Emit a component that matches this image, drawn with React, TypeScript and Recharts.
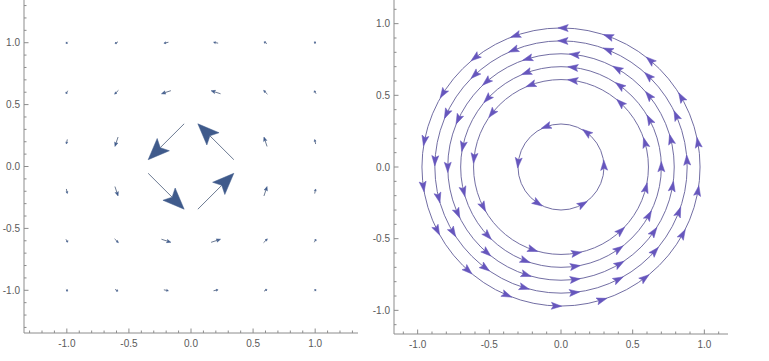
import React from 'react';
import { ScatterChart, Scatter, XAxis, YAxis } from 'recharts';

// ---------- data: vector field (left) ----------
const gridX = [-1, -0.6, -0.2, 0.2, 0.6, 1];
const gridY = [1, 0.6, 0.2, -0.2, -0.6, -1];
// drawn arrow components (data units), rows follow gridY, columns follow gridX
const vecU = [
  [-0.014, -0.024, -0.037, -0.037, -0.024, -0.014],
  [-0.0144, -0.031, -0.076, -0.076, -0.031, -0.0144],
  [-0.0075, -0.025, -0.29, -0.29, -0.025, -0.0075],
  [0.0075, 0.025, 0.29, 0.29, 0.025, 0.0075],
  [0.0144, 0.031, 0.076, 0.076, 0.031, 0.0144],
  [0.014, 0.024, 0.037, 0.037, 0.024, 0.014],
];
const vecV = [
  [-0.014, -0.0144, -0.0075, 0.0075, 0.0144, 0.014],
  [-0.024, -0.031, -0.025, 0.025, 0.031, 0.024],
  [-0.037, -0.076, -0.29, 0.29, 0.076, 0.037],
  [-0.037, -0.076, -0.29, 0.29, 0.076, 0.037],
  [-0.024, -0.031, -0.025, 0.025, 0.031, 0.024],
  [-0.014, -0.0144, -0.0075, 0.0075, 0.0144, 0.014],
];

// ---------- data: stream lines (right) ----------
const ringRadii = [0.97, 0.88, 0.79, 0.7, 0.61, 0.3];
const ringArrowAngles = [
  [10, 30, 50, 70, 89, 109, 128, 148, 169, 188, 207, 228, 247, 268, 287, 307, 331, 350],
  [3, 24, 46, 68, 89, 112, 133, 155, 177, 194, 211, 233, 253, 276, 297, 318, 339],
  [14, 39, 60, 83, 107, 131, 155, 180, 204, 229, 252, 277, 301, 325, 350],
  [0, 28, 54, 83, 110, 137, 168, 194, 223, 249, 278, 305, 331],
  [16, 47, 82, 110, 142, 174, 207, 251, 280, 313, 346],
  [2, 53, 110, 174, 237, 300],
];

// ---------- axes ----------
const leftDomain = [-1.345, 1.345];
const rightDomain = [-1.165, 1.165];
const majorTicks = [-1, -0.5, 0, 0.5, 1];
const leftMinorTicks = [-1.3, -1.2, -1.1, -1, -0.9, -0.8, -0.7, -0.6, -0.5, -0.4, -0.3, -0.2, -0.1, 0, 0.1, 0.2, 0.3, 0.4, 0.5, 0.6, 0.7, 0.8, 0.9, 1, 1.1, 1.2, 1.3];
const rightMinorTicks = [-1.1, -1, -0.9, -0.8, -0.7, -0.6, -0.5, -0.4, -0.3, -0.2, -0.1, 0, 0.1, 0.2, 0.3, 0.4, 0.5, 0.6, 0.7, 0.8, 0.9, 1, 1.1];

const FRAME = '#8c8c8c';
const LABEL = '#5a5a5a';
const FONT = 'Liberation Sans, Arial, sans-serif';
const MAJ = 4.5;
const MIN = 2.5;

const isMajor = (v: number) => majorTicks.some((m) => Math.abs(m - v) < 1e-6);
const fmt = (v: number) => {
  const s = Math.abs(v).toFixed(1);
  return v < -1e-9 ? '-' + s : s;
};

const BottomTick = (props: any) => {
  const { x, y, payload } = props;
  const major = isMajor(payload.value);
  return (
    <g>
      <line x1={x} y1={y} x2={x} y2={y - (major ? MAJ : MIN)} stroke={FRAME} strokeWidth={1} />
      {major && (
        <text x={x} y={y + 14} textAnchor="middle" fontSize={10} fill={LABEL} fontFamily={FONT}>
          {fmt(payload.value)}
        </text>
      )}
    </g>
  );
};
const TopTick = (props: any) => {
  const { x, y, payload } = props;
  const major = isMajor(payload.value);
  return <line x1={x} y1={y} x2={x} y2={y + (major ? MAJ : MIN)} stroke={FRAME} strokeWidth={1} />;
};
const LeftTick = (props: any) => {
  const { x, y, payload } = props;
  const major = isMajor(payload.value);
  return (
    <g>
      <line x1={x} y1={y} x2={x + (major ? MAJ : MIN)} y2={y} stroke={FRAME} strokeWidth={1} />
      {major && (
        <text x={x - 4} y={y + 3.5} textAnchor="end" fontSize={10} fill={LABEL} fontFamily={FONT}>
          {fmt(payload.value)}
        </text>
      )}
    </g>
  );
};
const RightTick = (props: any) => {
  const { x, y, payload } = props;
  const major = isMajor(payload.value);
  return <line x1={x} y1={y} x2={x - (major ? MAJ : MIN)} y2={y} stroke={FRAME} strokeWidth={1} />;
};

const emptyShape = () => <g />;

// arrow for the vector field: points = [tail, tip] in pixels
const renderVectorArrow = (props: any) => {
  const pts = props.points;
  if (!pts || pts.length < 2) return <g />;
  const [t, h] = pts;
  const dx = h.x - t.x;
  const dy = h.y - t.y;
  const len = Math.sqrt(dx * dx + dy * dy) || 1;
  const ux = dx / len;
  const uy = dy / len;
  const px = -uy;
  const py = ux;
  const hl = Math.max(len * 0.42, 1.4);
  const hw = Math.max(len * 0.17, 1.0);
  const bx = h.x - ux * hl;
  const by = h.y - uy * hl;
  const nx = bx + ux * hl * 0.2;
  const ny = by + uy * hl * 0.2;
  const poly = `${h.x},${h.y} ${bx + px * hw},${by + py * hw} ${nx},${ny} ${bx - px * hw},${by - py * hw}`;
  return (
    <g>
      <line x1={t.x} y1={t.y} x2={nx} y2={ny} stroke="#5b6b86" strokeWidth={0.9} />
      <polygon points={poly} fill="#3f5a8b" stroke="#3f5a8b" strokeWidth={0.5} />
    </g>
  );
};

// ring streamline: points = [(-r,0), (r,0), (0,r)] in pixels
const renderRing = (props: any) => {
  const pts = props.points;
  if (!pts || pts.length < 3) return <g />;
  const cx = (pts[0].x + pts[1].x) / 2;
  const cy = pts[0].y;
  const rx = Math.abs(pts[1].x - pts[0].x) / 2;
  const ry = Math.abs(cy - pts[2].y);
  return <ellipse cx={cx} cy={cy} rx={rx} ry={ry} fill="none" stroke="#625d98" strokeWidth={0.9} />;
};

const StreamHead = (props: any) => {
  const { cx, cy, payload } = props;
  if (cx == null || cy == null) return <g />;
  const rot = -(payload.a + 90);
  return (
    <polygon
      points="5.5,0 -4.8,3.5 -2.8,0 -4.8,-3.5"
      transform={`translate(${cx},${cy}) rotate(${rot})`}
      fill="#6656bd"
      stroke="#6656bd"
      strokeWidth={0.5}
    />
  );
};

// ---------- derived plotting tables ----------
const vectorArrows: { x: number; y: number }[][] = [];
gridY.forEach((gy, r) => {
  gridX.forEach((gx, c) => {
    const u = vecU[r][c];
    const v = vecV[r][c];
    vectorArrows.push([
      { x: gx - u / 2, y: gy - v / 2 },
      { x: gx + u / 2, y: gy + v / 2 },
    ]);
  });
});

const ringTables = ringRadii.map((r) => [
  { x: -r, y: 0 },
  { x: r, y: 0 },
  { x: 0, y: r },
]);

const headTable: { x: number; y: number; a: number }[] = [];
ringRadii.forEach((r, i) => {
  ringArrowAngles[i].forEach((a) => {
    const rad = (a * Math.PI) / 180;
    headTable.push({ x: r * Math.cos(rad), y: r * Math.sin(rad), a });
  });
});

const Frame = ({ domain, ticks, yWidth, xHeight }: any) => [
  <XAxis key="xb" xAxisId="b" orientation="bottom" type="number" dataKey="x" domain={domain} ticks={ticks} interval={0}
    allowDataOverflow height={xHeight} tickSize={0} tickMargin={0} tick={BottomTick} axisLine={{ stroke: FRAME }} tickLine={false} />,
  <XAxis key="xt" xAxisId="t" orientation="top" type="number" dataKey="x" domain={domain} ticks={ticks} interval={0}
    allowDataOverflow height={0} tickSize={0} tickMargin={0} tick={TopTick} axisLine={{ stroke: FRAME }} tickLine={false} />,
  <YAxis key="yl" yAxisId="l" orientation="left" type="number" dataKey="y" domain={domain} ticks={ticks} interval={0}
    allowDataOverflow width={yWidth} tickSize={0} tickMargin={0} tick={LeftTick} axisLine={{ stroke: FRAME }} tickLine={false} />,
  <YAxis key="yr" yAxisId="r" orientation="right" type="number" dataKey="y" domain={domain} ticks={ticks} interval={0}
    allowDataOverflow width={0} tickSize={0} tickMargin={0} tick={RightTick} axisLine={{ stroke: FRAME }} tickLine={false} />,
];

export default function App() {
  return (
    <div style={{ position: 'absolute', left: 0, top: 0, width: 769, height: 361, background: '#fff' }}>
      <div style={{ position: 'absolute', left: 0, top: 0 }}>
        <ScatterChart width={380} height={361} margin={{ top: 0, right: 22, bottom: 0, left: 0 }}>
          {Frame({ domain: leftDomain, ticks: leftMinorTicks, yWidth: 24, xHeight: 28 })}
          {vectorArrows.map((pts, i) => (
            <Scatter key={'v' + i} xAxisId="b" yAxisId="l" data={pts} line={renderVectorArrow} lineType="joint"
              shape={emptyShape} isAnimationActive={false} />
          ))}
        </ScatterChart>
      </div>
      <div style={{ position: 'absolute', left: 365, top: 0 }}>
        <ScatterChart width={404} height={361} margin={{ top: 0, right: 41, bottom: 0, left: 0 }}>
          {Frame({ domain: rightDomain, ticks: rightMinorTicks, yWidth: 29, xHeight: 27 })}
          {ringTables.map((pts, i) => (
            <Scatter key={'c' + i} xAxisId="b" yAxisId="l" data={pts} line={renderRing} lineType="joint"
              shape={emptyShape} isAnimationActive={false} />
          ))}
          <Scatter xAxisId="b" yAxisId="l" data={headTable} shape={StreamHead} isAnimationActive={false} />
        </ScatterChart>
      </div>
    </div>
  );
}
